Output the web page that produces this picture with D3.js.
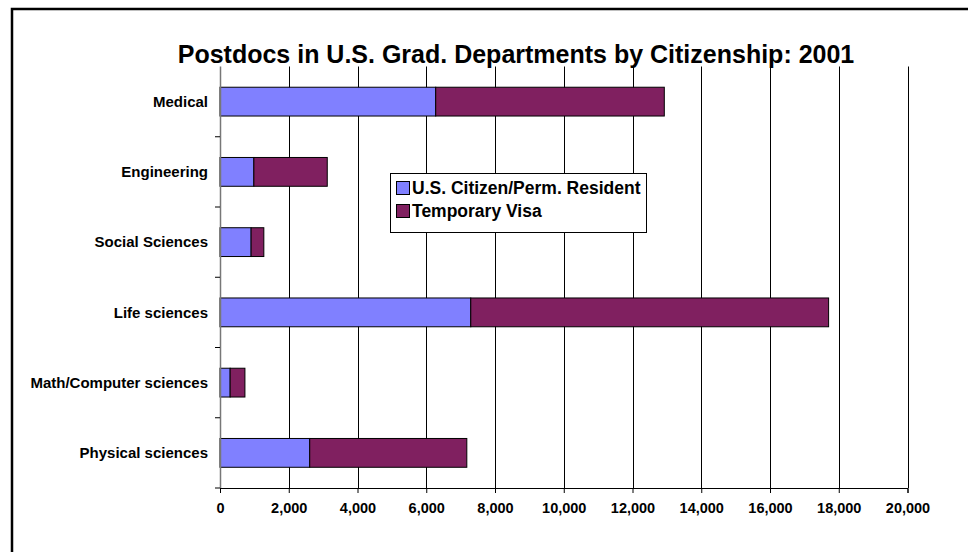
<!DOCTYPE html>
<html>
<head>
<meta charset="utf-8">
<script src="https://cdn.jsdelivr.net/npm/d3@7"></script>
<style>
  body { margin: 0; background: #fff; }
  text { font-family: "Liberation Sans", Arial, sans-serif; font-weight: bold; fill: #000; }
</style>
</head>
<body>
<div id="chart"></div>
<script>
// categories top to bottom
var categories = ["Medical", "Engineering", "Social Sciences", "Life sciences", "Math/Computer sciences", "Physical sciences"];
var seriesNames = ["U.S. Citizen/Perm. Resident", "Temporary Visa"];
var citizenValues = [6275, 985, 905, 7295, 295, 2610];
var visaValues = [6650, 2135, 370, 10410, 430, 4570];
var xTicks = [0, 2000, 4000, 6000, 8000, 10000, 12000, 14000, 16000, 18000, 20000];
var colors = ["#8080ff", "#802060"];

var chart_width = 968, chart_height = 552;
var margin = {top: 66.5, left: 220, right: 60.5, bottom: 64};
var width = chart_width - margin.left - margin.right;
var height = chart_height - margin.top - margin.bottom;

var svg = d3.select("#chart").append("svg")
    .attr("width", chart_width)
    .attr("height", chart_height);

// outer frame
svg.append("rect")
    .attr("x", 12).attr("y", 9)
    .attr("width", 1000).attr("height", 600)
    .attr("fill", "none")
    .attr("stroke", "#000")
    .attr("stroke-width", 2.5);

svg.append("text")
    .attr("x", 516).attr("y", 63)
    .attr("text-anchor", "middle")
    .style("font-size", "25px")
    .text("Postdocs in U.S. Grad. Departments by Citizenship: 2001");

var plot = svg.append("g")
    .attr("transform", "translate(" + margin.left + "," + margin.top + ")");

var x = d3.scaleLinear().domain([0, 20000]).range([0, width]);
var y = d3.scaleBand().domain(categories).range([0, height]).paddingInner(0.59).paddingOuter(0.295);
var yBand = d3.scaleBand().domain(categories).range([0, height]);

// gridlines
plot.selectAll(".grid")
    .data(xTicks.slice(1))
    .enter().append("line")
    .attr("class", "grid")
    .attr("x1", function(d) { return Math.round(x(d)) + 0.5; })
    .attr("x2", function(d) { return Math.round(x(d)) + 0.5; })
    .attr("y1", 0).attr("y2", height)
    .attr("stroke", "#000")
    .attr("stroke-width", 1);

// stacked bars
var rows = categories.map(function(c, i) {
    return {cat: c, vals: [citizenValues[i], visaValues[i]]};
});

rows.forEach(function(r) {
    var start = 0;
    r.vals.forEach(function(v, j) {
        plot.append("rect")
            .attr("x", x(start))
            .attr("y", y(r.cat))
            .attr("width", x(start + v) - x(start))
            .attr("height", y.bandwidth())
            .attr("fill", colors[j])
            .attr("stroke", "#000")
            .attr("stroke-width", 1);
        start += v;
    });
});

// x axis
var xAxis = d3.axisBottom(x)
    .tickValues(xTicks)
    .tickSize(5)
    .tickFormat(d3.format(","));

var gx = plot.append("g")
    .attr("transform", "translate(0," + height + ")")
    .call(xAxis);
gx.select(".domain").attr("stroke", "#000");
gx.selectAll(".tick text")
    .attr("dy", "1.2em")
    .style("font-size", "14.5px")
    .style("font-family", "Liberation Sans, Arial, sans-serif")
    .style("font-weight", "bold");

// y axis line and category ticks
plot.append("line")
    .attr("x1", 0.5).attr("x2", 0.5)
    .attr("y1", 0).attr("y2", height)
    .attr("stroke", "#777").attr("stroke-width", 1.5);

plot.selectAll(".ytick")
    .data(categories)
    .enter().append("line")
    .attr("class", "ytick")
    .attr("x1", -5).attr("x2", 0)
    .attr("y1", function(d) { return yBand(d) + yBand.bandwidth(); })
    .attr("y2", function(d) { return yBand(d) + yBand.bandwidth(); })
    .attr("stroke", "#000");

plot.selectAll(".ylabel")
    .data(categories)
    .enter().append("text")
    .attr("class", "ylabel")
    .attr("x", -12)
    .attr("y", function(d) { return yBand(d) + yBand.bandwidth() / 2; })
    .attr("dy", "0.35em")
    .attr("text-anchor", "end")
    .style("font-size", "15px")
    .text(function(d) { return d; });

// legend
var legend = svg.append("g").attr("transform", "translate(390,173)");
legend.append("rect")
    .attr("x", 0.5).attr("y", 0.5)
    .attr("width", 256).attr("height", 59)
    .attr("fill", "#fff")
    .attr("stroke", "#000");

seriesNames.forEach(function(s, i) {
    legend.append("rect")
        .attr("x", 6.5).attr("y", 8.5 + i * 23)
        .attr("width", 13).attr("height", 13)
        .attr("fill", colors[i])
        .attr("stroke", "#000");
    legend.append("text")
        .attr("x", 22).attr("y", 21 + i * 23)
        .style("font-size", "17.5px")
        .text(s);
});
</script>
</body>
</html>
